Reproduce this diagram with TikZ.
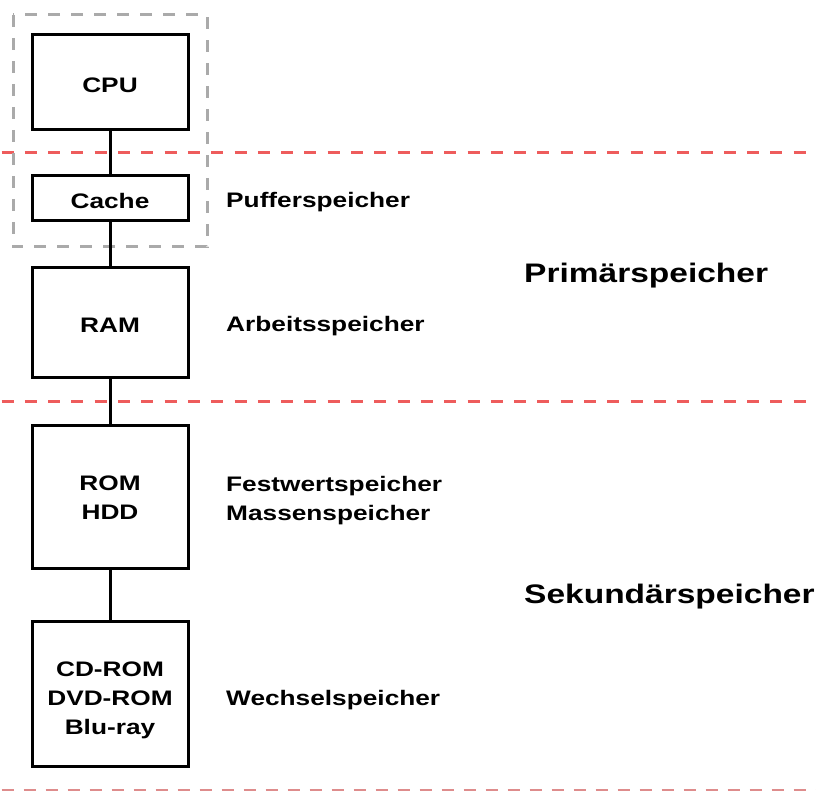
\documentclass[tikz,border=0pt]{standalone}
\usepackage{fontspec}
\setmainfont{Liberation Sans}[FakeStretch=1.25]
\definecolor{sepred}{RGB}{238,92,92}
\definecolor{seppink}{RGB}{222,140,140}
\definecolor{grpgray}{RGB}{170,170,170}
\begin{document}
\begin{tikzpicture}[x=1pt,y=-1pt,
  box/.style={draw=black,line width=3pt,rectangle,minimum width=156pt,inner sep=0pt,
    align=center,font=\bfseries\fontsize{21}{29}\selectfont},
  onebox/.style={box,text height=20pt,text depth=0pt},
  conn/.style={draw=black,line width=3pt},
  lbl/.style={anchor=base west,inner sep=0pt,align=left,font=\bfseries\fontsize{21}{29}\selectfont},
  big/.style={anchor=base west,inner sep=0pt,font=\bfseries\fontsize{26.8}{33}\selectfont},
  sep/.style={draw=sepred,line width=3pt,dash pattern=on 12pt off 11.3pt},
  grp/.style={draw=grpgray,line width=3pt,dash pattern=on 12pt off 11pt}]
\useasboundingbox (0,0) rectangle (816,791);
% level separators
\draw[sep] (1.5,153) -- (816,153);
\draw[sep] (1.5,401) -- (816,401);
\draw[draw=seppink,line width=2pt,dash pattern=on 12pt off 10pt] (1.5,789.5) -- (816,789.5);
% group frame
\draw[grp] (13,15) rectangle (207,247);
% boxes
\node[onebox,minimum height=95pt] (cpu) at (110,82.5) {CPU};
\node[onebox,minimum height=45pt] (cache) at (110,198.5) {Cache};
\node[onebox,minimum height=109pt] (ram) at (110,322.5) {RAM};
\node[box,minimum height=143pt,text height=46pt,text depth=0pt] (rom) at (110,496.5) {ROM\\HDD};
\node[box,minimum height=145pt,text height=86pt,text depth=4pt] (cd) at (110,693.5) {CD-ROM\\DVD-ROM\\Blu-ray};
% connectors
\draw[conn] (cpu.south) -- (cache.north);
\draw[conn] (cache.south) -- (ram.north);
\draw[conn] (ram.south) -- (rom.north);
\draw[conn] (rom.south) -- (cd.north);
% labels
\node[lbl] (lpuf) at (226,208) {Pufferspeicher};
\node[lbl] (larb) at (226,331) {Arbeitsspeicher};
\node[lbl] (lfest) at (226,520) {Festwertspeicher\\Massenspeicher};
\node[lbl] (lwech) at (226,705) {Wechselspeicher};
\node[big] (lprim) at (524,283) {Primärspeicher};
\node[big] (lsek) at (524,603) {Sekundärspeicher};
\end{tikzpicture}
\end{document}
